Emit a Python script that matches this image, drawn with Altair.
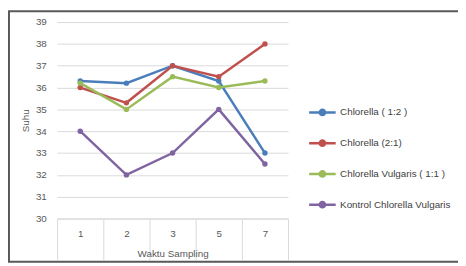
import altair as alt
import pandas as pd

waktu = ["1", "2", "3", "5", "7"]
series = ["Chlorella ( 1:2 )", "Chlorella (2:1)", "Chlorella Vulgaris ( 1:1 )", "Kontrol Chlorella Vulgaris"]
colors = ["#4a7ebb", "#c0504d", "#9bbb59", "#8064a2"]
v_12 = [36.3, 36.2, 37.0, 36.3, 33.0]
v_21 = [36.0, 35.3, 37.0, 36.5, 38.0]
v_11 = [36.2, 35.0, 36.5, 36.0, 36.3]
v_k = [34.0, 32.0, 33.0, 35.0, 32.5]

rows = []
for name, vals in zip(series, [v_12, v_21, v_11, v_k]):
    for w, v in zip(waktu, vals):
        rows.append({"Waktu": w, "Suhu": v, "Seri": name})
df = pd.DataFrame(rows)

FONT = "Liberation Sans"
GRAY = "#595959"

x = alt.X("Waktu:N", sort=waktu, scale=alt.Scale(paddingInner=0, paddingOuter=0),
          axis=alt.Axis(title="Waktu Sampling", labelAngle=0, tickBand="extent", tickSize=42,
                        tickColor="#d9d9d9", domainColor="#d9d9d9", labelPadding=-32,
                        labelColor=GRAY, labelFontSize=10, labelFont=FONT,
                        titleFont=FONT, titleFontSize=10, titleColor=GRAY, titleFontWeight="normal",
                        titleY=36, titleBaseline="middle", grid=False))
y = alt.Y("Suhu:Q", scale=alt.Scale(domain=[30, 39], nice=False, zero=False),
          axis=alt.Axis(title="Suhu", values=list(range(30, 40)), ticks=False, domain=False,
                        gridColor="#d9d9d9", labelPadding=11, labelColor=GRAY, labelFontSize=10,
                        labelFont=FONT, titleFont=FONT, titleFontSize=10, titleColor=GRAY,
                        titleFontWeight="normal", titleX=-27, titleY=100))
color = alt.Color("Seri:N", scale=alt.Scale(domain=series, range=colors), sort=series,
                  legend=alt.Legend(title=None, orient="none", legendX=255, legendY=77,
                                    symbolType="M-1,0L1,0M0.2,0A0.2,0.2 0 1,1 -0.2,0A0.2,0.2 0 1,1 0.2,0",
                                    symbolSize=729, symbolStrokeWidth=2.5, rowPadding=8.3,
                                    labelFont=FONT, labelFontSize=10, labelColor="#404040",
                                    labelOffset=3))

lines = alt.Chart(df).mark_line(strokeWidth=2.5, point=alt.OverlayMarkDef(filled=True, size=30)).encode(
    x=x, y=y, color=color)

border = alt.Chart(pd.DataFrame({"a": [0]})).mark_rect(fill=None, stroke="#595959", strokeWidth=2, clip=False).encode(
    x=alt.value(-49), x2=alt.value(412), y=alt.value(-11), y2=alt.value(244))

chart = alt.layer(border, lines).properties(
    width=235, height=200,
    autosize=alt.AutoSizeParams(type="none"),
    padding={"left": 50, "top": 12, "right": 173, "bottom": 46},
    background="white",
).configure_view(stroke=None)

chart.save("out.html", embed_options={"renderer": "svg", "actions": False})
